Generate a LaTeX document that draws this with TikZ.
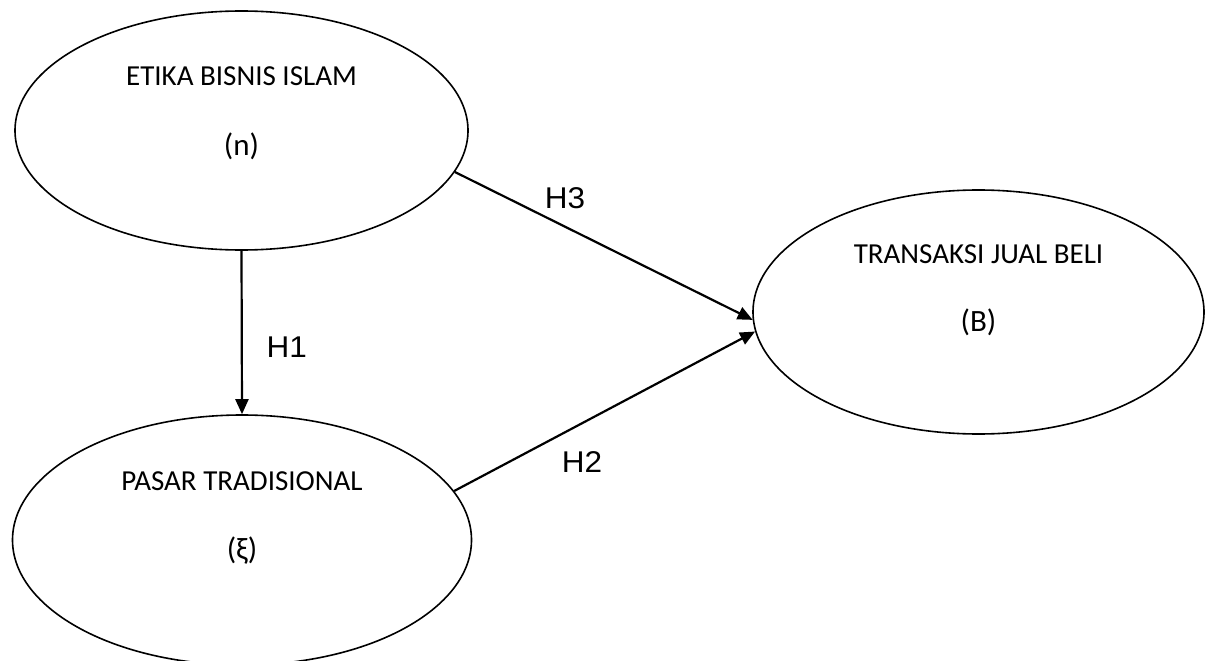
\documentclass[tikz,border=0pt]{standalone}
\usepackage{fontspec}
\setmainfont{Carlito}
\newfontfamily\labelfont{Liberation Sans}[FakeStretch=1.05]
\usetikzlibrary{shapes.geometric,arrows.meta}

\begin{document}
\begin{tikzpicture}[x=1pt,y=-1pt]

        \useasboundingbox (0,0) rectangle (1211,661);

        \begin{scope}[every node/.style={ellipse,draw,line width=1.6pt,inner sep=0pt}]
          \node[minimum width=453pt,minimum height=239pt] (etika)     at (241.5,130.5) {};
          \node[minimum width=459pt,minimum height=250pt] (pasar)     at (242,540)     {};
          \node[minimum width=451pt,minimum height=244pt] (transaksi) at (978.5,312)   {};
        \end{scope}

        \begin{scope}[every node/.style={anchor=base,font=\fontsize{29}{33}\selectfont}]
          \node (etikaname)     at ([yshift=45.5pt]etika.center)     {ETIKA BISNIS ISLAM};
          \node (pasarname)     at ([yshift=50pt]pasar.center)       {PASAR TRADISIONAL};
          \node (transaksiname) at ([yshift=49pt]transaksi.center)   {TRANSAKSI JUAL BELI};
        \end{scope}

        \begin{scope}[every node/.style={anchor=base,font=\fontsize{31}{35}\selectfont}]
          \node (etikasym)      at ([yshift=-24.5pt]etika.center)    {(n)};
          \node (pasarsym)      at ([yshift=-19pt]pasar.center)      {(ξ)};
          \node (transaksisym)  at ([yshift=-19pt]transaksi.center)  {(B)};
        \end{scope}

        \begin{scope}[every node/.style={font=\labelfont\fontsize{30}{34}\selectfont}]

          \begin{scope}[every edge/.style={draw,line width=2.2pt,-{Triangle[length=15pt,width=13pt]}}]
            \path (etika.south) edge node[pos=0.59,xshift=45pt]   {H1} (pasar.north);
            \path (pasar.13)    edge node[pos=0.425,yshift=-39pt] {H2} (transaksi.185);
            \path (etika.-11)   edge node[pos=0.37,yshift=29pt]   {H3} (transaksi.182);
          \end{scope}
        \end{scope}

      \end{tikzpicture}
\end{document}
